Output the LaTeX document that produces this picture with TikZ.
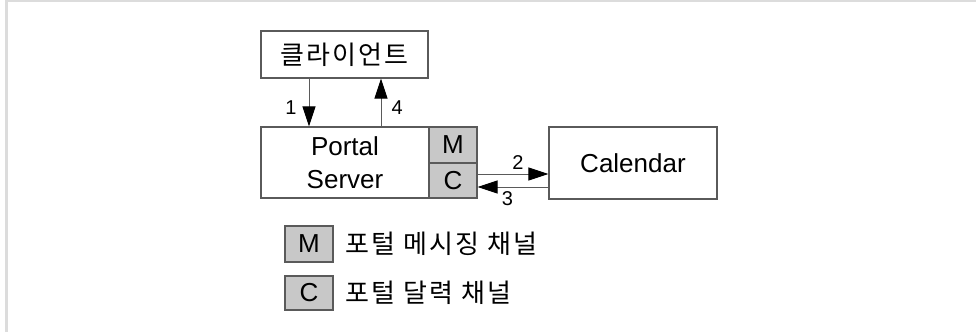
\documentclass[tikz,border=0pt]{standalone}
\usepackage{fontspec}
\setmainfont{Liberation Sans}
\newfontfamily\kofont[LetterSpace=8]{Noto Sans CJK KR}
\usepackage{xcolor}
\usetikzlibrary{arrows.meta}
\usetikzlibrary{positioning}

\definecolor{linegray}{HTML}{5A5A5A}
\definecolor{chanfill}{HTML}{C8C8C8}
\definecolor{framegray}{HTML}{DCDCDC}

\begin{document}
\begin{tikzpicture}
        [x=0.5pt,y=-0.5pt,
        box/.style={rectangle,draw=linegray,line width=0.6pt,inner sep=0pt,text centered,font=\fontsize{13}{16.5}\selectfont},
        chan/.style={box,fill=chanfill,minimum width=24pt},
        lbl/.style={inner sep=1pt,font=\fontsize{10}{11}\selectfont},
        legend/.style={inner sep=0pt,anchor=west,font=\fontsize{13}{16}\selectfont\kofont},
        to/.style={-{Triangle[length=10pt,width=6.5pt,color=black]},draw=linegray,line width=0.5pt}]

\useasboundingbox (0,0) rectangle (976,332);

% frame
\fill[framegray] (5,0) rectangle (976,2);
\fill[framegray] (5,0) rectangle (8,332);

% types
\node[box,minimum width=83.5pt,minimum height=23.5pt] at (344.5,54.5) (client) {\kofont 클라이언트};

\node[box,minimum width=84pt,minimum height=35.5pt,align=center] at (345,162.5) (server) {Portal\\Server};

\node[chan,minimum height=18pt] at (453,145) (mm) {M};
\node[chan,minimum height=17.5pt] at (453,180.5) (mc) {C};

\node[box,minimum width=84pt,minimum height=36pt] at (633,163) (cal) {Calendar};

% legend
\node[chan,minimum height=18pt] at (309,244) (keym) {M};
\node[legend] at (345,244) (textm) {포털 메시징 채널};

\node[chan,minimum height=17pt] at (309,293) (keyc) {C};
\node[legend] at (345,293) (textc) {포털 달력 채널};

%arrows
\draw[to] ([xshift=-17.75pt]client.south) -- node[pos=0.6,left=5pt,lbl] {1} ([xshift=-17.75pt]client.south |- server.north);
\draw[to] ([xshift=18.25pt]client.south |- server.north) -- node[pos=0.4,right=4pt,lbl] {4} ([xshift=18.25pt]client.south);
\draw[to] ([yshift=3.25pt]mc.east) -- node[pos=0.57,above=1pt,lbl] {2} ([yshift=3.25pt]mc.east -| cal.west);
\draw[to] ([yshift=-3.25pt]mc.east -| cal.west) -- node[pos=0.58,below=1pt,lbl] {3} ([yshift=-3.25pt]mc.east);

\end{tikzpicture}
\end{document}
